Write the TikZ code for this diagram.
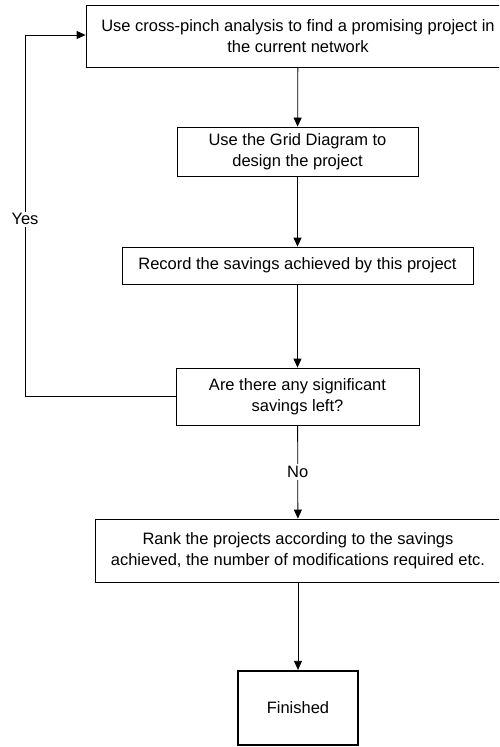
\documentclass[tikz,border=0pt]{standalone}
\usepackage{fontspec}
\setmainfont{Liberation Sans}
\usetikzlibrary{arrows.meta}
\begin{document}
\begin{tikzpicture}[x=1pt,y=-1pt,
  box/.style={draw=black, line width=0.8pt, inner sep=0pt, align=center,
    font=\fontsize{16.5}{21}\selectfont},
  fin/.style={box, line width=2.2pt},
  arr/.style={draw=black, line width=0.8pt, -{Triangle[length=9pt,width=8pt]}},
  lbl/.style={fill=white, inner sep=2pt, font=\fontsize{16.5}{21}\selectfont}]
\useasboundingbox (0,0) rectangle (499,747);
\clip (0,0) rectangle (499,747);
\node[box, minimum width=424pt, minimum height=62pt] (b1) at (298,36)
  {Use cross-pinch analysis to find a promising project in\\the current network};
\node[box, minimum width=241pt, minimum height=49pt] (b2) at (297.5,151.5)
  {Use the Grid Diagram to\\design the project};
\node[box, minimum width=351pt, minimum height=37pt] (b3) at (297.5,265.5)
  {Record the savings achieved by this project};
\node[box, minimum width=243pt, minimum height=57pt] (b4) at (297.5,396.5)
  {Are there any significant\\savings left?};
\node[box, minimum width=406pt, minimum height=63pt] (b5) at (298,550.5)
  {Rank the projects according to the savings\\achieved, the number of modifications required etc.};
\node[fin, minimum width=120pt, minimum height=74pt] (f) at (298,708)
  {Finished};
\coordinate (lb) at (25,396.5);
\coordinate (lt) at (25,35);
\draw[arr] (b1) -- (b2);
\draw[arr] (b2) -- (b3);
\draw[arr] (b3) -- (b4);
\draw[arr] (b4) -- node[lbl] {No} (b5);
\draw[arr] (b5) -- (f);
\draw[arr] (b4.west) -- (lb) -- node[lbl, pos=0.49] {Yes} (lt) -- (lt -| b1.west);
\end{tikzpicture}
\end{document}
